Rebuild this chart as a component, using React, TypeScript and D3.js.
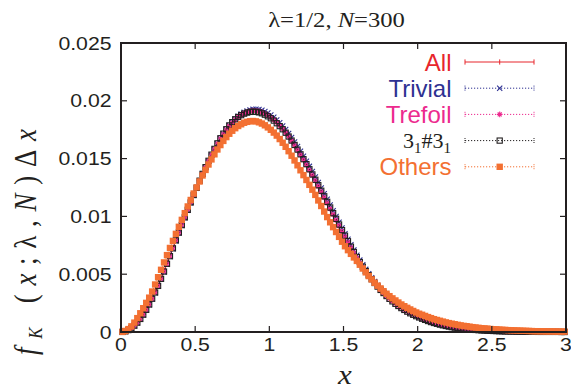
import React from 'react';
import * as d3 from 'd3';

const W = 571, H = 392;
const PL = 121, PR = 566, PT = 43, PB = 332;

const xTicks = [0, 0.5, 1, 1.5, 2, 2.5, 3];
const xTickLabels = ['0', '0.5', '1', '1.5', '2', '2.5', '3'];
const yTicks = [0, 0.005, 0.01, 0.015, 0.02, 0.025];
const yTickLabels = ['0', '0.005', '0.01', '0.015', '0.02', '0.025'];

// bins: centre of first bin and bin width (Δx)
const BIN_START = 0.01;
const BIN_WIDTH = 0.02;
const UNIT = 1e-5; // values below are in units of 1e-5

const allVals = [1,6,17,34,56, 83,115,152,195,240, 291,346,403,464,527, 594,660,727,795,862, 928,994,1058,1122,1184, 1245,1305,1363,1419,1473, 1525,1573,1619,1661,1701, 1738,1770,1799,1824,1846, 1864,1878,1889,1896,1900, 1899,1894,1886,1874,1859, 1840,1819,1796,1769,1740, 1708,1673,1636,1597,1556, 1514,1471,1428,1383,1338, 1291,1243,1195,1147,1099, 1050,1001,952,903,854, 806,759,713,669,626, 585,547,511,477,445, 414,385,357,331,306, 284,263,243,225,208, 192,178,164,152,140, 129,118,108,98,89, 82,75,68,62,56, 51,46,42,38,34, 31,28,25,22,20, 18,17,15,13,12, 10,9,8,7,6, 6,5,5,4,4, 3,3,3,2,2, 2,2,2,1,1, 1,1,1,1,1];

const trivialVals = [1,5,16,32,54, 80,112,148,190,235, 285,340,397,458,520, 586,653,720,788,856, 922,989,1054,1119,1182, 1244,1305,1365,1422,1477, 1530,1580,1628,1672,1713, 1752,1786,1816,1843,1866, 1885,1900,1912,1921,1926, 1927,1924,1918,1908,1894, 1877,1857,1835,1810,1782, 1751,1718,1682,1644,1604, 1563,1520,1477,1433,1388, 1341,1293,1245,1197,1148, 1099,1049,999,949,899, 850,802,755,709,665, 622,581,542,505,470, 437,405,375,347,321, 296,273,252,232,214, 197,181,166,153,140, 128,117,106,96,87, 79,72,65,59,53, 48,43,39,35,31, 28,25,22,20,18, 16,14,13,11,10, 9,8,7,6,5, 5,4,4,3,3, 3,2,2,2,2, 1,1,1,1,1, 1,1,1,0,0];

const trefoilVals = [1,6,16,33,55, 82,114,151,193,238, 289,344,401,462,525, 592,658,726,794,861, 928,995,1060,1124,1187, 1249,1310,1369,1426,1480, 1533,1582,1629,1672,1712, 1750,1783,1812,1838,1860, 1878,1893,1904,1911,1915, 1914,1910,1902,1890,1875, 1857,1836,1813,1786,1757, 1725,1691,1654,1615,1574, 1532,1489,1445,1400,1355, 1308,1260,1212,1164,1115, 1066,1017,968,919,870, 822,775,729,684,640, 598,559,522,487,454, 422,392,363,336,311, 288,266,246,227,210, 194,179,165,152,140, 129,118,107,97,88, 80,73,66,60,54, 49,44,40,36,32, 29,26,23,21,19, 17,15,14,12,11, 9,8,7,6,6, 5,5,4,4,3, 3,3,2,2,2, 2,1,1,1,1, 1,1,1,1,0];

const composite31Vals = [1,6,17,33,55, 81,113,150,192,238, 288,342,399,460,523, 590,656,724,793,860, 925,992,1057,1121,1185, 1247,1309,1368,1426,1481, 1534,1584,1632,1676,1716, 1754,1787,1815,1840,1860, 1876,1889,1898,1904,1906, 1905,1900,1892,1880,1866, 1849,1829,1806,1781,1754, 1724,1691,1656,1618,1578, 1537,1495,1452,1408,1363, 1317,1270,1222,1174,1126, 1077,1028,979,930,881, 833,785,738,692,648, 605,565,527,491,457, 424,393,364,337,311, 287,265,244,225,207, 191,176,162,149,137, 126,115,105,95,86, 78,71,64,58,52, 47,42,38,34,31, 28,25,22,20,18, 16,14,13,11,10, 9,8,7,6,5, 5,4,4,3,3, 3,2,2,2,2, 1,1,1,1,1, 1,1,1,0,0];

const othersVals = [1,9,25,49,81, 120,162,206,252,297, 350,411,474,538,602, 665,727,788,849,910, 970,1028,1086,1142,1198, 1251,1302,1354,1402,1449, 1493,1537,1579,1617,1653, 1686,1715,1741,1763,1782, 1797,1810,1818,1823,1825, 1822,1814,1803,1788,1770, 1749,1725,1699,1669,1637, 1602,1564,1525,1484,1442, 1399,1357,1315,1273,1231, 1186,1138,1090,1042,994, 949,907,865,823,781, 742,708,676,645,615, 582,549,516,484,455, 426,401,377,353,331, 310,291,273,255,238, 223,209,195,182,169, 158,149,139,129,120, 111,104,97,90,83, 77,72,67,62,57, 53,50,46,42,39, 36,33,31,29,26, 24,23,21,19,18, 16,15,14,13,12, 11,10,9,8,7, 7,6,6,5,5, 5,4,4,3,3];

const seriesNames = ['All', 'Trivial', 'Trefoil', '3_1#3_1', 'Others'];
const seriesColors = ['#e8262c', '#2e3192', '#ec2a8e', '#231f20', '#f37032'];

const x = d3.scaleLinear().domain([0, 3]).range([PL, PR]);
const y = d3.scaleLinear().domain([0, 0.025]).range([PB, PT]);

const toPts = (vals: number[]) => vals.map((v, i) => [BIN_START + i * BIN_WIDTH, v * UNIT] as [number, number]);

const lineGen = d3.line<[number, number]>().x(d => x(d[0])).y(d => y(d[1]));

function Marker({ kind, cx, cy, color }: { kind: string; cx: number; cy: number; color: string }) {
  if (kind === 'cross') {
    const r = 2.6;
    return <path d={`M${cx - r},${cy - r}L${cx + r},${cy + r}M${cx - r},${cy + r}L${cx + r},${cy - r}`} stroke={color} strokeWidth={1.1} fill="none" />;
  }
  if (kind === 'star') {
    const r = 2.8, q = 2.0;
    return <path d={`M${cx - r},${cy}L${cx + r},${cy}M${cx},${cy - r}L${cx},${cy + r}M${cx - q},${cy - q}L${cx + q},${cy + q}M${cx - q},${cy + q}L${cx + q},${cy - q}`} stroke={color} strokeWidth={1.1} fill="none" />;
  }
  if (kind === 'osq') {
    const r = 2.6;
    return <rect x={cx - r} y={cy - r} width={2 * r} height={2 * r} stroke={color} strokeWidth={1.1} fill="none" />;
  }
  if (kind === 'fsq') {
    const r = 3.2;
    return <rect x={cx - r} y={cy - r} width={2 * r} height={2 * r} fill={color} />;
  }
  return null;
}

const kinds = ['none', 'cross', 'star', 'osq', 'fsq'];
const seriesVals = [allVals, trivialVals, trefoilVals, composite31Vals, othersVals];

export default function App() {
  const stretch = 1.18;
  const legendY = [62, 88.2, 114.4, 140.6, 166.8];
  const lx0 = 465, lx1 = 534, lxm = 499.7;
  return (
    <svg width={W} height={H} style={{ display: 'block', position: 'absolute', left: 0, top: 0, background: '#fff' }}>
      <rect width={W} height={H} fill="#fff" />
      {/* title */}
      <text x={0} y={0} transform={`translate(336.5,26.5) scale(1.2,1)`} textAnchor="middle" fontFamily="'Liberation Serif', 'DejaVu Serif', serif" fontSize={20.5} fill="#231f20">
        λ=1/2, <tspan fontStyle="italic">N</tspan>=300
      </text>

      {/* data */}
      {seriesVals.map((vals, si) => {
        const pts = toPts(vals);
        const color = seriesColors[si];
        return (
          <g key={si}>
            <path d={lineGen(pts) || ''} fill="none" stroke={color} strokeWidth={si === 0 ? 1.2 : 1} strokeDasharray={si === 0 ? undefined : '1.2,1.8'} />
            {kinds[si] !== 'none' && pts.map((p, i) => (
              <Marker key={i} kind={kinds[si]} cx={x(p[0])} cy={y(p[1])} color={color} />
            ))}
          </g>
        );
      })}

      {/* frame */}
      <rect x={PL} y={PT} width={PR - PL} height={PB - PT} fill="none" stroke="#231f20" strokeWidth={2} />
      {xTicks.map((t, i) => (
        <g key={'xt' + i}>
          <line x1={x(t)} x2={x(t)} y1={PB} y2={PB - 6} stroke="#231f20" strokeWidth={1.2} />
          <line x1={x(t)} x2={x(t)} y1={PT} y2={PT + 6} stroke="#231f20" strokeWidth={1.2} />
          <text transform={`translate(${x(t)},350.5) scale(${stretch},1)`} textAnchor="middle" fontFamily="'Liberation Sans', Arial, sans-serif" fontSize={18} fill="#231f20">{xTickLabels[i]}</text>
        </g>
      ))}
      {yTicks.map((t, i) => (
        <g key={'yt' + i}>
          <line x1={PL} x2={PL + 6} y1={y(t)} y2={y(t)} stroke="#231f20" strokeWidth={1.2} />
          <line x1={PR} x2={PR - 6} y1={y(t)} y2={y(t)} stroke="#231f20" strokeWidth={1.2} />
          <text transform={`translate(111.5,${y(t) + 6.5}) scale(${stretch},1)`} textAnchor="end" fontFamily="'Liberation Sans', Arial, sans-serif" fontSize={18} fill="#231f20">{yTickLabels[i]}</text>
        </g>
      ))}

      {/* axis labels */}
      <text transform="translate(345,384) scale(1.15,1)" textAnchor="middle" fontFamily="'Liberation Serif', serif" fontStyle="italic" fontSize={27} fill="#231f20">x</text>
      <text transform="translate(36,242) rotate(-90) scale(1,1.15)" textAnchor="middle" fontFamily="'Liberation Serif', serif" fontSize={27} fill="#231f20" textLength={226} lengthAdjust="spacing">
        <tspan fontStyle="italic">f</tspan><tspan fontStyle="italic" fontSize={17} dy={5}>K</tspan><tspan dy={-5}> (</tspan><tspan fontStyle="italic">x</tspan>;λ,<tspan fontStyle="italic">N</tspan>)Δ<tspan fontStyle="italic">x</tspan>
      </text>

      {/* legend */}
      {seriesNames.map((name, si) => {
        const ly = legendY[si];
        const color = seriesColors[si];
        return (
          <g key={'lg' + si}>
            {name === '3_1#3_1' ? (
              <text x={451} y={ly + 7} textAnchor="end" fontFamily="'Liberation Serif', serif" fontSize={22} fill={color}>
                3<tspan fontSize={15} dy={5}>1</tspan><tspan dy={-5}>#3</tspan><tspan fontSize={15} dy={5}>1</tspan>
              </text>
            ) : (
              <text x={451.5} y={ly + 8.5} textAnchor="end" fontFamily="'Liberation Sans', Arial, sans-serif" fontSize={24} fill={color}>{name}</text>
            )}
            <line x1={lx0} x2={lx1} y1={ly} y2={ly} stroke={color} strokeWidth={si === 0 ? 1.2 : 1} strokeDasharray={si === 0 ? undefined : '1.2,1.8'} />
            <line x1={lx0} x2={lx0} y1={ly - 2.6} y2={ly + 2.6} stroke={color} strokeWidth={1} strokeDasharray={si === 0 ? undefined : '1,1'} />
            <line x1={lx1} x2={lx1} y1={ly - 2.6} y2={ly + 2.6} stroke={color} strokeWidth={1} strokeDasharray={si === 0 ? undefined : '1,1'} />
            {si === 0 ? (
              <line x1={lxm} x2={lxm} y1={ly - 2.6} y2={ly + 2.6} stroke={color} strokeWidth={1} />
            ) : (
              <Marker kind={kinds[si]} cx={lxm} cy={ly} color={color} />
            )}
          </g>
        );
      })}
    </svg>
  );
}
